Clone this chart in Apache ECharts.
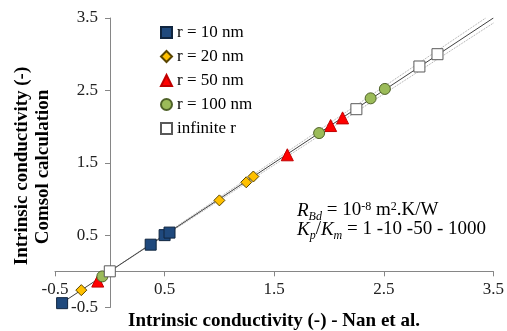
<!DOCTYPE html>
<html>
<head>
<meta charset="utf-8">
<script src="https://cdn.jsdelivr.net/npm/echarts@6/dist/echarts.min.js"></script>
<style>
html,body{margin:0;padding:0;background:#fff;}
#chart{width:507px;height:331px;}
</style>
</head>
<body>
<div id="chart"></div>
<script>
// Data: [Nan et al., Comsol]
var seriesNames = ['r = 10 nm', 'r = 20 nm', 'r = 50 nm', 'r = 100 nm', 'infinite r'];
var r10 = [[-0.435, -0.44], [0.373, 0.368], [0.50, 0.50], [0.545, 0.535]];
var r20 = [[-0.26, -0.26], [1.0, 0.98], [1.245, 1.23], [1.31, 1.31]];
var r50 = [[-0.11, -0.135], [1.62, 1.61], [2.015, 2.014], [2.124, 2.12]];
var r100 = [[-0.068, -0.07], [1.91, 1.91], [2.38, 2.39], [2.51, 2.52]];
var rInf = [[0, 0], [2.25, 2.24], [2.825, 2.83], [2.99, 3.0]];
var identityLine = [[-0.45, -0.45], [3.5, 3.5]];
var upperBand = [[0, 0], [3.43, 3.5]];
var lowerBand = [[0, 0], [3.5, 3.43]];
var axisMin = -0.5, axisMax = 3.5, axisStep = 1;
var xTitle = 'Intrinsic conductivity (-) - Nan et al.';
var yTitle1 = 'Intrinsic conductivity (-)';
var yTitle2 = 'Comsol calculation';

var FONT = 'Liberation Serif';
var chart = echarts.init(document.getElementById('chart'));

var GRID = { left: 55, right: 12, top: 18, bottom: 23.5 };
var plotW = 507 - GRID.left - GRID.right;
var plotH = 331 - GRID.top - GRID.bottom;
// offsets that place each axis on the other axis' zero
var yAxisOffset = -plotW * (0 - axisMin) / (axisMax - axisMin);
var xAxisOffset = -plotH * (0 - axisMin) / (axisMax - axisMin);

function scatter(name, data, symbol, size, fill, border) {
  return {
    name: name, type: 'scatter', data: data, symbol: symbol, symbolSize: size,
    itemStyle: { color: fill, borderColor: border, borderWidth: 1, opacity: 1 },
    emphasis: { disabled: true }, z: 3
  };
}
function refLine(data, color, type) {
  return {
    type: 'line', data: data, symbol: 'none', silent: true, z: 2,
    lineStyle: { color: color, width: 1, type: type }
  };
}
function axis(offset, margin) {
  return {
    type: 'value', min: axisMin, max: axisMax, interval: axisStep, offset: offset,
    splitLine: { show: false },
    axisLine: { onZero: false, lineStyle: { color: '#868686', width: 1 } },
    axisTick: { show: true, length: 5, lineStyle: { color: '#868686' } },
    axisLabel: { color: '#222', fontFamily: FONT, fontSize: 17, margin: margin,
      showMinLabel: true, showMaxLabel: true, hideOverlap: false,
      formatter: function (v) { return v.toFixed(1); } }
  };
}

chart.setOption({
  animation: false,
  backgroundColor: '#fff',
  grid: { left: GRID.left, right: GRID.right, top: GRID.top, bottom: GRID.bottom, containLabel: false },
  xAxis: axis(xAxisOffset, 10),
  yAxis: axis(yAxisOffset, 12),
  legend: {
    data: seriesNames, orient: 'vertical', left: 160, top: 24, padding: 0,
    itemWidth: 11, itemHeight: 11, itemGap: 7,
    textStyle: { fontFamily: FONT, fontSize: 17, color: '#000' }
  },
  series: [
    refLine(upperBand, '#a6a6a6', 'dotted'),
    refLine(lowerBand, '#a6a6a6', 'dotted'),
    refLine(identityLine, '#404040', 'solid'),
    scatter(seriesNames[0], r10, 'rect', 11, '#1F497D', '#10253F'),
    scatter(seriesNames[1], r20, 'diamond', 11, '#FFC000', '#5a4500'),
    scatter(seriesNames[2], r50, 'triangle', 12, '#FF0000', '#C00000'),
    scatter(seriesNames[3], r100, 'circle', 11, '#9BBB59', '#4F6228'),
    scatter(seriesNames[4], rInf, 'rect', 11, '#FFFFFF', '#595959')
  ],
  graphic: [
    { type: 'text', x: 274, y: 321, silent: true,
      style: { text: xTitle, font: 'bold 19px ' + FONT, fill: '#000', align: 'center', verticalAlign: 'middle' } },
    { type: 'text', x: 22, y: 166, rotation: Math.PI / 2, silent: true,
      style: { text: yTitle1, font: 'bold 19px ' + FONT, fill: '#000', align: 'center', verticalAlign: 'middle' } },
    { type: 'text', x: 43, y: 167, rotation: Math.PI / 2, silent: true,
      style: { text: yTitle2, font: 'bold 19px ' + FONT, fill: '#000', align: 'center', verticalAlign: 'middle' } },
    { type: 'text', x: 297, y: 201, silent: true,
      style: {
        text: '{i|R}{sub|Bd}{n| = 10}{sup|-8}{n| m}{sup|2}{n|.K/W}\n{i|K}{sub|p}{n|/}{i|K}{sub|m}{n| = 1 -10 -50 - 1000}',
        fill: '#000', font: '19px ' + FONT,
        rich: {
          n: { fontFamily: FONT, fontSize: 19, lineHeight: 19, verticalAlign: 'middle', fill: '#000' },
          i: { fontFamily: FONT, fontSize: 19, fontStyle: 'italic', lineHeight: 19, verticalAlign: 'middle', fill: '#000' },
          sub: { fontFamily: FONT, fontSize: 12, fontStyle: 'italic', lineHeight: 12, verticalAlign: 'bottom', fill: '#000', padding: [0, 0, -3, 0] },
          sup: { fontFamily: FONT, fontSize: 12, lineHeight: 12, verticalAlign: 'top', fill: '#000' }
        }
      } }
  ]
});
</script>
</body>
</html>
